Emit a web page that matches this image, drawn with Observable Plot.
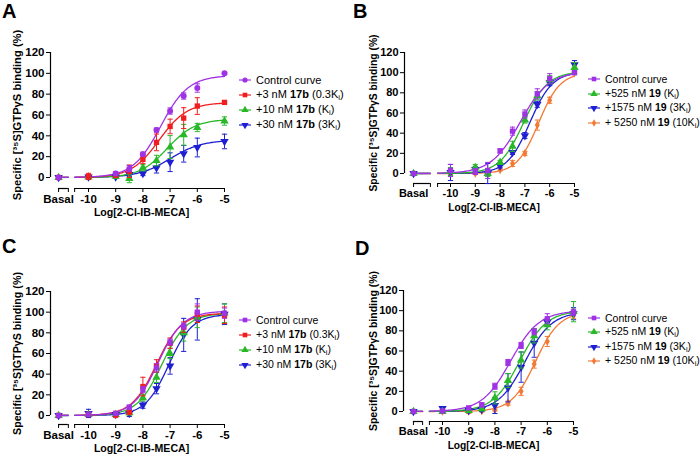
<!DOCTYPE html>
<html><head><meta charset="utf-8">
<script src="https://cdn.jsdelivr.net/npm/d3@7"></script>
<script src="https://cdn.jsdelivr.net/npm/@observablehq/plot@0.6"></script>
<style>
body{margin:0;background:#fff;width:700px;height:458px;overflow:hidden;position:relative;font-family:"Liberation Sans",Arial,sans-serif;color:#000;}
.panel{position:absolute;width:350px;height:229px;}
.panel svg{overflow:visible;}
.letter{position:absolute;font-weight:bold;font-size:20px;line-height:1;}
.legend{position:absolute;white-space:nowrap;}
.legend .row{position:absolute;left:0;height:14px;display:flex;align-items:center;}
.legend svg{margin-right:5px;}
.legend sub{font-size:0.7em;vertical-align:-0.25em;}
</style></head><body>
<script>
// ---------- shared data ----------
const logConc = [-10, -9, -8.5, -8, -7.5, -7, -6.5, -6, -5];
const yTicks = [0, 20, 40, 60, 80, 100, 120];
const xTickNumbers = [-10, -9, -8, -7, -6, -5];
const basalLabel = "Basal";
const xTitle = "Log[2-Cl-IB-MECA]";
const yTitle = "Specific [³⁵S]GTPγS binding (%)";
const panelLetters = ["A", "B", "C", "D"];

// ---------- Panel A (17b) ----------
const labelsA = ["Control curve", "+3 nM <b>17b</b> (0.3K<sub>i</sub>)", "+10 nM <b>17b</b> (K<sub>i</sub>)", "+30 nM <b>17b</b> (3K<sub>i</sub>)"];
const aCtrl  = [null, 3.8, 8.5, 22.4, 45.5, 63.8, 78.2, 85.9, 100];
const aRed   = [1, 2, 6, 17.3, 33.7, 49, 57, 68.6, 72.1];
const aGreen = [0.5, 1, -1, 9.3, 16.3, 29.2, 41, 48, 54.2];
const aBlue  = [0.5, 0.5, 3, 3.8, 9.3, 14.7, 22.8, 28.8, 34.6];
const aCtrlErr  = [0, 2, 3, 2, 2, 3, 3, 4, 1];
const aRedErr   = [3, 2, 6, 4, 8, 7, 10, 8, 1];
const aGreenErr = [1, 2, 4, 3, 5, 11, 10, 4, 4];
const aBlueErr  = [1, 1, 2, 2, 5, 9, 8, 9, 7];
const aBasal = [0, 0, 0, 0];
const aEC50 = [-7.35, -7.4, -7.1, -7.0];
const aHill = [0.85, 0.85, 0.85, 0.75];
const aTop  = [98, 72, 56, 36];

// ---------- Panel B (19) ----------
const labelsB = ["Control curve", "+525 nM <b>19</b> (K<sub>i</sub>)", "+1575 nM <b>19</b> (3K<sub>i</sub>)", "+ 5250 nM <b>19</b> (10K<sub>i</sub>)"];
const bCtrl   = [3, 2, 3, 22.4, 42, 59, 79, 94, 100];
const bGreen  = [2, 6, 0, 11, 27, 53, 77, 93, 105];
const bBlue   = [1, 4, 0, 7.6, 20.8, 37.6, 68.6, 90, 108];
const bOrange = [0, 0, 1, 3.6, 10, 20, 48, 72.6, 100];
const bCtrlErr   = [6, 3, 8, 2, 4, 4, 5, 5, 1];
const bGreenErr  = [4, 3, 3, 2, 5, 3, 4, 4, 5];
const bBlueErr   = [8, 3, 10, 2, 2, 3, 3, 3, 4];
const bOrangeErr = [1, 1, 1, 1, 3, 2, 5, 3, 2];
const bBasal = [0, 0, 0, 0];
const bEC50 = [-7.2, -7.05, -6.8, -6.45];
const bHill = [0.75, 0.9, 0.95, 1.0];
const bTop  = [101, 101, 101, 100];

// ---------- Panel C (17b) ----------
const labelsC = labelsA;
const cCtrl  = [1, 2, 8, 25, 46, 71, 86.5, 100, 99];
const cRed   = [1, 1, 3, 28, 48, 70, 85.5, 98, 97];
const cGreen = [1, 1, 2.5, 17, 37, 60, 80, 95, 99];
const cBlue  = [2, 1, 2, 10, 26, 48, 78, 93, 98];
const cCtrlErr  = [2, 2, 2, 3, 4, 3, 3, 8, 5];
const cRedErr   = [2, 3, 2, 9, 6, 5, 5, 8, 8];
const cGreenErr = [1, 2, 2, 3, 5, 5, 8, 10, 9];
const cBlueErr  = [4, 2, 3, 3, 5, 8, 16, 20, 10];
const cBasal = [0, 0, 0, 0];
const cEC50 = [-7.45, -7.5, -7.3, -7.05];
const cHill = [0.95, 0.95, 0.95, 1.0];
const cTop  = [101, 99, 99, 98];

// ---------- Panel D (19) ----------
const labelsD = labelsB;
const dCtrl   = [0.5, 3.6, 6.6, 25, 48.6, 65.5, 79, 92, 98.5];
const dGreen  = [0, 1, 2.6, 13.5, 30.7, 51, 75, 86, 99];
const dBlue   = [3, 1, 2, 6, 23.5, 44, 67.8, 88.6, 97];
const dOrange = [0, 0, 0.5, 1.5, 8.3, 20, 47, 69.4, 95];
const dCtrlErr   = [1, 1, 2, 3, 3, 3, 3, 5, 3];
const dGreenErr  = [1, 1, 2, 6, 7, 8, 7, 5, 10];
const dBlueErr   = [1, 1, 2, 8, 14, 15, 14, 3, 6];
const dOrangeErr = [1, 2, 1, 1, 2, 4, 4, 5, 3];
const dBasal = [0, 0, 0, 0];
const dEC50 = [-7.4, -7.05, -6.85, -6.45];
const dHill = [0.8, 0.85, 0.85, 0.95];
const dTop  = [100, 100, 99, 99];

// ---------- styles ----------
const colors = {ctrl: "#a032e6", red: "#f01e1e", green: "#28b828", blue: "#1e1ed2", orange: "#f27a36"};
const triDown = {draw(ctx, size) {
  const flip = {moveTo: (x, y) => ctx.moveTo(x, -y), lineTo: (x, y) => ctx.lineTo(x, -y), closePath: () => ctx.closePath()};
  d3.symbolTriangle.draw(flip, size);
}};
const capSym = {draw(ctx, size) { const w = Math.sqrt(size / Math.PI); ctx.moveTo(-w, 0); ctx.lineTo(w, 0); }};
const symbols = {circle: d3.symbolCircle, square: d3.symbolSquare, red: d3.symbolSquare, green: d3.symbolTriangle, blue: triDown, orange: d3.symbolDiamond};
const radii = {ctrl: 3, red: 3, green: 3.1, blue: 3.1, orange: 2.6};

const panels = [
  {series: ["ctrl", "red", "green", "blue"], ctrlSym: "circle", labels: labelsA,
   values: [aCtrl, aRed, aGreen, aBlue], errs: [aCtrlErr, aRedErr, aGreenErr, aBlueErr], basal: aBasal, ec50: aEC50, hill: aHill, top: aTop},
  {series: ["ctrl", "green", "blue", "orange"], ctrlSym: "square", labels: labelsB,
   values: [bCtrl, bGreen, bBlue, bOrange], errs: [bCtrlErr, bGreenErr, bBlueErr, bOrangeErr], basal: bBasal, ec50: bEC50, hill: bHill, top: bTop},
  {series: ["ctrl", "red", "green", "blue"], ctrlSym: "square", labels: labelsC,
   values: [cCtrl, cRed, cGreen, cBlue], errs: [cCtrlErr, cRedErr, cGreenErr, cBlueErr], basal: cBasal, ec50: cEC50, hill: cHill, top: cTop},
  {series: ["ctrl", "green", "blue", "orange"], ctrlSym: "square", labels: labelsD,
   values: [dCtrl, dGreen, dBlue, dOrange], errs: [dCtrlErr, dGreenErr, dBlueErr, dOrangeErr], basal: dBasal, ec50: dEC50, hill: dHill, top: dTop}
];

// layout (pixels / axis geometry per panel)
const layouts = [
  {left: 0, top: 0, ml: 50, mr: 126, mt: 52, mb: 41, xmin: -11.397, ybase: -10.56, basalX: -11.10, segEnd: -10.74, mainStart: -10.51,
   tickFs: 11.5, xtFs: 10.6, xtDy: 27, ylFs: 11.2, ylDx: -33, letter: [2, 1], leg: {x: 239, y: 80, step: 15, fs: 11}},
  {left: 350, top: 0, ml: 54, mr: 126, mt: 52, mb: 46, xmin: -11.855, ybase: -9.92, basalX: -11.49, segEnd: -10.81, mainStart: -10.52,
   tickFs: 11, xtFs: 10.2, xtDy: 27, ylFs: 10.3, ylDx: -31, letter: [3, 1], leg: {x: 238, y: 79, step: 14.6, fs: 10.5}},
  {left: 0, top: 229, ml: 50, mr: 126, mt: 62, mb: 34, xmin: -11.397, ybase: -8.71, basalX: -11.10, segEnd: -10.74, mainStart: -10.51,
   tickFs: 11.5, xtFs: 10.6, xtDy: 27, ylFs: 10.7, ylDx: -33, letter: [2, 7], leg: {x: 239, y: 91, step: 15, fs: 10.5}},
  {left: 350, top: 229, ml: 53, mr: 127, mt: 61, mb: 37, xmin: -11.489, ybase: -9.92, basalX: -11.11, segEnd: -10.76, mainStart: -10.50,
   tickFs: 11, xtFs: 10.2, xtDy: 27, ylFs: 10.5, ylDx: -30, letter: [5, 9], leg: {x: 238, y: 89, step: 14.4, fs: 10.5}}
];

function symOf(p, s) { return s === "ctrl" ? symbols[p.ctrlSym] : symbols[s]; }

panels.forEach((p, k) => {
  const L = layouts[k];
  const div = document.createElement("div");
  div.className = "panel";
  div.style.left = L.left + "px"; div.style.top = L.top + "px";
  document.body.appendChild(div);

  const marks = [];
  // axis lines
  marks.push(Plot.ruleX([L.xmin], {y1: 0, y2: 120, stroke: "#000", strokeWidth: 1.2}));
  marks.push(Plot.ruleY([{a: L.basalX, b: L.segEnd}, {a: L.mainStart, b: -5}], {x1: "a", x2: "b", y: L.ybase, stroke: "#000", strokeWidth: 1.2}));

  // fitted curves
  const order = p.series.map((s, i) => i).reverse();
  order.forEach(i => {
    const s = p.series[i];
    const f = x => p.top[i] / (1 + Math.pow(10, (p.ec50[i] - x) * p.hill[i]));
    const segB = [L.basalX, L.segEnd].map(x => ({x, y: f(x)}));
    const segM = d3.range(L.mainStart, -5, 0.04).concat([-5]).map(x => ({x, y: f(x)}));
    marks.push(Plot.line(segB, {x: "x", y: "y", stroke: colors[s], strokeWidth: 1.3}));
    marks.push(Plot.line(segM, {x: "x", y: "y", stroke: colors[s], strokeWidth: 1.3}));
  });

  // points + error bars
  order.forEach(i => {
    const s = p.series[i];
    const rows = [];
    p.values[i].forEach((v, j) => { if (v != null) rows.push({x: logConc[j], y: v, e: p.errs[i][j]}); });
    rows.push({x: L.basalX, y: p.basal[i], e: 0});
    const eb = rows.filter(d => d.e > 0);
    marks.push(Plot.ruleX(eb, {x: "x", y1: d => d.y - d.e, y2: d => d.y + d.e, stroke: colors[s], strokeWidth: 1}));
    marks.push(Plot.dot(eb, {x: "x", y: d => d.y + d.e, symbol: capSym, r: 2.6, stroke: colors[s], fill: "none", strokeWidth: 1}));
    marks.push(Plot.dot(eb, {x: "x", y: d => d.y - d.e, symbol: capSym, r: 2.6, stroke: colors[s], fill: "none", strokeWidth: 1}));
    marks.push(Plot.dot(rows, {x: "x", y: "y", symbol: symOf(p, s), r: radii[s], fill: colors[s], stroke: "none"}));
  });

  // axis titles
  marks.push(Plot.text([yTitle], {x: L.xmin, y: 60, dx: L.ylDx, rotate: -90, text: d => d, fontSize: L.ylFs, fontWeight: "bold", fill: "#000"}));
  marks.push(Plot.text([xTitle], {x: (L.basalX + -5) / 2, frameAnchor: "bottom", dy: L.xtDy, text: d => d, fontSize: L.xtFs, fontWeight: "bold", fill: "#000"}));

  const chart = Plot.plot({
    width: 350, height: 229,
    marginLeft: L.ml, marginRight: L.mr, marginTop: L.mt, marginBottom: L.mb,
    style: {fontFamily: "'Liberation Sans', Arial, sans-serif", fontSize: L.tickFs + "px", fontWeight: "bold", color: "#000", background: "transparent"},
    x: {domain: [L.xmin, -5], ticks: [L.basalX, L.segEnd, L.mainStart, ...xTickNumbers], tickSize: 4, tickPadding: 2,
        tickFormat: d => d === L.basalX ? basalLabel : (Number.isInteger(d) ? String(d) : ""), label: null},
    y: {domain: [L.ybase, 120], ticks: yTicks, tickSize: 4, tickPadding: 2, tickFormat: d => String(d), label: null},
    marks
  });
  div.appendChild(chart);

  // panel letter
  const letter = document.createElement("div");
  letter.className = "letter";
  letter.textContent = panelLetters[k];
  letter.style.left = L.letter[0] + "px"; letter.style.top = L.letter[1] + "px";
  div.appendChild(letter);

  // legend
  const leg = document.createElement("div");
  leg.className = "legend";
  leg.style.left = L.leg.x + "px"; leg.style.top = "0px";
  leg.style.fontSize = L.leg.fs + "px";
  p.series.forEach((s, i) => {
    const row = document.createElement("div");
    row.className = "row";
    row.style.top = (L.leg.y + i * L.leg.step - 7) + "px";
    const sz = Math.PI * radii[s] * radii[s] * 0.75;
    const path = d3.symbol().type(symOf(p, s)).size(sz)();
    row.innerHTML = `<svg width="12" height="10" viewBox="0 0 12 10"><line x1="0" x2="12" y1="5" y2="5" stroke="${colors[s]}" stroke-width="1.2"/><path transform="translate(6,5)" d="${path}" fill="${colors[s]}"/></svg><span>${p.labels[i]}</span>`;
    leg.appendChild(row);
  });
  div.appendChild(leg);
});
</script>
</body></html>
